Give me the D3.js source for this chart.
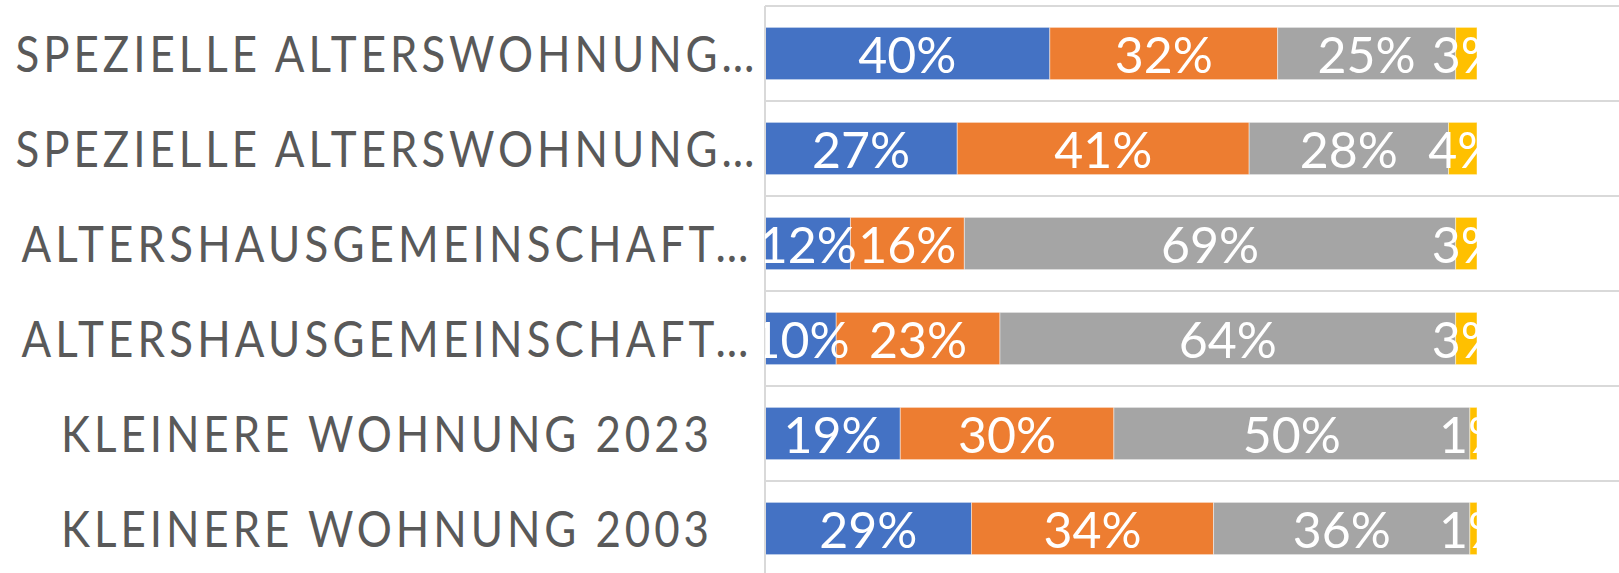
<!DOCTYPE html>
<html>
<head>
<meta charset="utf-8">
<script src="https://cdn.jsdelivr.net/npm/d3@7"></script>
<style>
  html, body { margin: 0; padding: 0; background: #fff; }
  svg { display: block; }
</style>
</head>
<body>
<svg id="chart" width="1619" height="573"></svg>
<script>
// categories from top to bottom, as shown on the axis
const categories = [
    'SPEZIELLE ALTERSWOHNUNG…',
    'SPEZIELLE ALTERSWOHNUNG…',
    'ALTERSHAUSGEMEINSCHAFT…',
    'ALTERSHAUSGEMEINSCHAFT…',
    'KLEINERE WOHNUNG 2023',
    'KLEINERE WOHNUNG 2003'
];
const series1 = [0.40, 0.27, 0.12, 0.10, 0.19, 0.29];
const series2 = [0.32, 0.41, 0.16, 0.23, 0.30, 0.34];
const series3 = [0.25, 0.28, 0.69, 0.64, 0.50, 0.36];
const series4 = [0.03, 0.04, 0.03, 0.03, 0.01, 0.01];
const seriesColors = ['#4472C4', '#ED7D31', '#A5A5A5', '#FFC000'];

const svg = d3.select('#chart');
const W = 1619, H = 573;

const x = d3.scaleLinear().domain([0, 1]).range([765, 1477]);
const y = d3.scaleBand()
    .domain(d3.range(categories.length))
    .range([6, 576])
    .paddingInner(0.45)
    .paddingOuter(0.225);

const rows = categories.map((c, i) => ({
    idx: i, name: c,
    s0: series1[i], s1: series2[i], s2: series3[i], s3: series4[i]
}));
const stack = d3.stack().keys(['s0', 's1', 's2', 's3']);
const layers = stack(rows);

// horizontal gridlines between categories
const grid = svg.append('g').attr('stroke', '#d9d9d9').attr('stroke-width', 2);
for (let i = 0; i <= categories.length; i++) {
    const gy = y.range()[0] + i * y.step();
    grid.append('line')
        .attr('x1', x(0)).attr('x2', W)
        .attr('y1', gy).attr('y2', gy);
}

// bars
const barG = svg.append('g');
layers.forEach((layer, k) => {
    barG.append('g')
        .attr('fill', seriesColors[k])
        .selectAll('rect')
        .data(layer)
        .join('rect')
        .attr('x', d => x(d[0]))
        .attr('y', d => y(d.data.idx))
        .attr('width', d => x(d[1]) - x(d[0]))
        .attr('height', y.bandwidth())
        .attr('stroke', 'rgba(255,255,255,0.45)')
        .attr('stroke-width', 1);
});

// vertical axis line
svg.append('line')
    .attr('x1', x(0)).attr('x2', x(0))
    .attr('y1', 6).attr('y2', H)
    .attr('stroke', '#d9d9d9').attr('stroke-width', 2);

// category labels (narrowed a bit, the original font is condensed)
const sx = 0.86;
const labelWidths = [739, 739, 727, 727, 648, 648];
svg.append('g')
    .attr('transform', `scale(${sx},1)`)
    .selectAll('text')
    .data(rows)
    .join('text')
    .attr('x', 385 / sx)
    .attr('y', d => y(d.idx) + y.bandwidth() / 2 + 19)
    .attr('text-anchor', 'middle')
    .attr('font-family', 'Lato, "Noto Sans", sans-serif')
    .attr('font-size', 51)
    .attr('fill', '#595959')
    .attr('textLength', (d, i) => labelWidths[i] / sx)
    .attr('lengthAdjust', 'spacing')
    .text(d => d.name);

// data labels, clipped to the bar extent
svg.append('clipPath').attr('id', 'barclip')
    .append('rect')
    .attr('x', x(0)).attr('y', 0)
    .attr('width', x(1) - x(0)).attr('height', H);

const fmt = d3.format('.0%');
const lab = svg.append('g').attr('clip-path', 'url(#barclip)');
layers.forEach(layer => {
    lab.append('g')
        .selectAll('text')
        .data(layer)
        .join('text')
        .attr('x', d => (x(d[0]) + x(d[1])) / 2)
        .attr('y', d => y(d.data.idx) + y.bandwidth() / 2 + 19)
        .attr('text-anchor', 'middle')
        .attr('font-family', 'Lato, "Noto Sans", sans-serif')
        .attr('font-size', 50)
        .attr('fill', '#fff')
        .text(d => fmt(d[1] - d[0]));
});
</script>
</body>
</html>
